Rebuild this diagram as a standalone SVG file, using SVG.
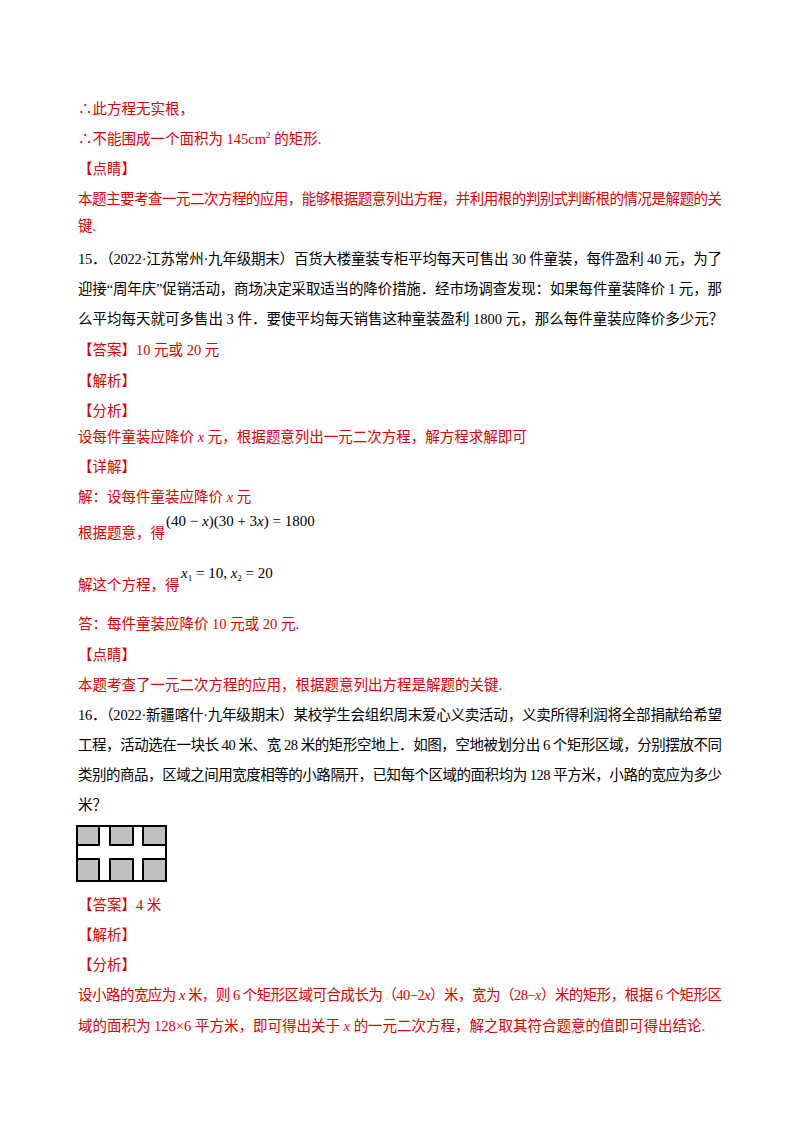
<svg xmlns="http://www.w3.org/2000/svg" width="800" height="1132" viewBox="0 0 800 1132">
<style>
text{font-family:"Liberation Serif","Noto Sans CJK SC",serif;font-size:14.5px}
.r{fill:#e00000}.k{fill:#000}
.m{font-family:"Liberation Serif",serif;font-size:15px;fill:#000}
.c{fill:#c0c0c0;stroke:#000;stroke-width:2}
</style>
<rect width="800" height="1132" fill="#fff"/>
<g id="text">
<text class="r" x="78" y="114">∴此方程无实根，</text>
<text class="r" x="78" y="144">∴不能围成一个面积为 145cm<tspan font-size="9" dy="-6">2</tspan><tspan dy="6"> 的矩形.</tspan></text>
<text class="r" x="78" y="174">【点睛】</text>
<text class="r" x="78" y="204" textLength="644" lengthAdjust="spacing">本题主要考查一元二次方程的应用，能够根据题意列出方程，并利用根的判别式判断根的情况是解题的关</text>
<text class="r" x="78" y="231">键.</text>
<text class="k" x="78" y="264" textLength="644" lengthAdjust="spacing">15．（2022·江苏常州·九年级期末）百货大楼童装专柜平均每天可售出 30 件童装，每件盈利 40 元，为了</text>
<text class="k" x="78" y="294" textLength="644" lengthAdjust="spacing">迎接“周年庆”促销活动，商场决定采取适当的降价措施．经市场调查发现：如果每件童装降价 1 元，那</text>
<text class="k" x="78" y="324">么平均每天就可多售出 3 件．要使平均每天销售这种童装盈利 1800 元，那么每件童装应降价多少元？</text>
<text class="r" x="78" y="355">【答案】10 元或 20 元</text>
<text class="r" x="78" y="386">【解析】</text>
<text class="r" x="78" y="416">【分析】</text>
<text class="r" x="78" y="442">设每件童装应降价 <tspan font-style="italic">x</tspan> 元，根据题意列出一元二次方程，解方程求解即可</text>
<text class="r" x="78" y="472">【详解】</text>
<text class="r" x="78" y="502">解：设每件童装应降价 <tspan font-style="italic">x</tspan> 元</text>
<text class="r" x="78" y="538">根据题意，得</text>
<text class="m" x="166" y="526">(40 − <tspan font-style="italic">x</tspan>)(30 + 3<tspan font-style="italic">x</tspan>) = 1800</text>
<text class="r" x="78" y="590">解这个方程，得</text>
<text class="m" x="181" y="578"><tspan font-style="italic">x</tspan><tspan font-size="9" dy="3">1</tspan><tspan dy="-3"> = 10, </tspan><tspan font-style="italic">x</tspan><tspan font-size="9" dy="3">2</tspan><tspan dy="-3"> = 20</tspan></text>
<text class="r" x="78" y="629">答：每件童装应降价 10 元或 20 元.</text>
<text class="r" x="78" y="660">【点睛】</text>
<text class="r" x="78" y="690">本题考查了一元二次方程的应用，根据题意列出方程是解题的关键.</text>
<text class="k" x="78" y="720" textLength="644" lengthAdjust="spacing">16．（2022·新疆喀什·九年级期末）某校学生会组织周末爱心义卖活动，义卖所得利润将全部捐献给希望</text>
<text class="k" x="78" y="750" textLength="644" lengthAdjust="spacing">工程，活动选在一块长 40 米、宽 28 米的矩形空地上．如图，空地被划分出 6 个矩形区域，分别摆放不同</text>
<text class="k" x="78" y="780" textLength="644" lengthAdjust="spacing">类别的商品，区域之间用宽度相等的小路隔开，已知每个区域的面积均为 128 平方米，小路的宽应为多少</text>
<text class="k" x="78" y="810">米？</text>
<text class="r" x="78" y="910">【答案】4 米</text>
<text class="r" x="78" y="940">【解析】</text>
<text class="r" x="78" y="970">【分析】</text>
<text class="r" x="78" y="1000" textLength="644" lengthAdjust="spacing">设小路的宽应为 <tspan font-style="italic">x</tspan> 米，则 6 个矩形区域可合成长为（40−2<tspan font-style="italic">x</tspan>）米，宽为（28−<tspan font-style="italic">x</tspan>）米的矩形，根据 6 个矩形区</text>
<text class="r" x="78" y="1031">域的面积为 128×6 平方米，即可得出关于 <tspan font-style="italic">x</tspan> 的一元二次方程，解之取其符合题意的值即可得出结论.</text>
</g>
<g id="figure">
<rect x="77" y="826" width="89" height="55" fill="#fff" stroke="#000" stroke-width="2"/>
<rect class="c" x="77" y="826" width="22" height="19"/>
<rect class="c" x="110" y="826" width="23" height="19"/>
<rect class="c" x="143" y="826" width="23" height="19"/>
<rect class="c" x="77" y="859" width="22" height="22"/>
<rect class="c" x="110" y="859" width="23" height="22"/>
<rect class="c" x="143" y="859" width="23" height="22"/>
</g>
</svg>
